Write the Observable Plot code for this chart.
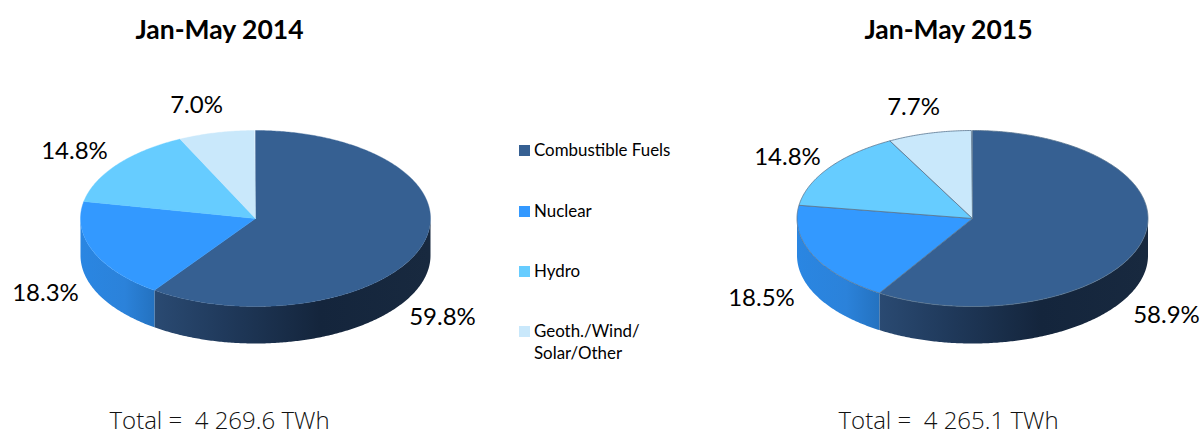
<!DOCTYPE html>
<html>
<head>
<meta charset="utf-8">
<script src="https://cdn.jsdelivr.net/npm/d3@7"></script>
<script src="https://cdn.jsdelivr.net/npm/@observablehq/plot@0.6"></script>
<style>
  html, body { margin: 0; padding: 0; background: #fff; }
  #stage { position: relative; width: 1204px; height: 436px; overflow: hidden; font-family: Lato, sans-serif; color: #000; }
  #stage > div { position: absolute; top: 0; }
  #legend { left: 500px; width: 220px; height: 436px; }
  .item { position: absolute; left: 34px; font-size: 16.9px; line-height: 22px; white-space: pre; }
  .swatch { position: absolute; width: 11px; height: 11px; left: 19px; }
</style>
</head>
<body>
<div id="stage">
  <div id="left" style="left:0"></div>
  <div id="legend"></div>
  <div id="right" style="left:720px"></div>
</div>
<script>
// ---- data ----
const categories = ["Combustible Fuels", "Nuclear", "Hydro", "Geoth./Wind/\nSolar/Other"];
const shares2014 = [59.8, 18.3, 14.8, 7.0];
const shares2015 = [58.9, 18.5, 14.8, 7.7];
const titles = ["Jan-May 2014", "Jan-May 2015"];
const totals = ["Total =  4 269.6 TWh", "Total =  4 265.1 TWh"];

// ---- style and layout ----
const colors = ["#366092", "#3399ff", "#66ccff", "#c9e8fb"];
const H = 436, RY = 88, DEPTH = 37, CY = 218;
const legendTops = [139, 200, 260, 320];
const layouts = {
  a: {W: 500, cx: 255, rx: 175, textX: 219, outline: null, grad: "a",
      labels: [[442, 317], [45, 293], [74, 151], [196, 105]]},
  b: {W: 484, cx: 252, rx: 175.5, textX: 228, outline: "#59758f", grad: "b",
      labels: [[446, 315], [41, 298], [67, 157], [193, 107]]}
};

const rad = (pct) => pct / 100 * 2 * Math.PI;

function pie(shares, title, total, L) {
  const {W, cx, rx, textX} = L;
  const ux = (px) => (px - cx) / rx;           // panel pixel -> unit x
  const uy = (py) => (CY - py) / RY;           // panel pixel -> unit y
  const drop = DEPTH / RY;
  const rim = (t, d = 0) => ({x: Math.sin(t), y: Math.cos(t) - d});
  const arc = (a, b, d = 0) => {
    const n = Math.max(2, Math.ceil((b - a) / 0.01));
    return d3.range(n + 1).map((i) => rim(a + (b - a) * i / n, d));
  };

  // cumulative slice bounds, clockwise from 12 o'clock
  let acc = 0;
  const slices = shares.map((v, i) => {
    const s = {i, v, a: rad(acc), b: rad(acc + v)};
    acc += v;
    return s;
  });

  const tops = slices.map((s) => Plot.line(
    [{x: 0, y: 0}, ...arc(s.a, s.b), {x: 0, y: 0}],
    {x: "x", y: "y", fill: colors[s.i], curve: "linear",
     stroke: L.outline ?? colors[s.i], strokeWidth: L.outline ? 0.8 : 0.4, strokeLinejoin: "round"}
  ));

  // front walls: only the part of each slice on the near half
  const wall = (a, b, fill) => Plot.line(
    [...arc(a, b), ...arc(a, b, drop).reverse()],
    {x: "x", y: "y", fill, stroke: "none", curve: "linear"}
  );
  const split = slices[0].b;
  const walls = [
    wall(Math.PI / 2, split, `url(#wallDark${L.grad})`),
    wall(split, Math.PI * 1.5, `url(#wallBlue${L.grad})`)
  ];

  const defs = () => d3.create("svg:defs").html(`
    <linearGradient id="wallDark${L.grad}" x1="0" x2="1" y1="0" y2="0">
      <stop offset="0" stop-color="#2a4a72"/>
      <stop offset="0.25" stop-color="#203a5c"/>
      <stop offset="0.6" stop-color="#14253c"/>
      <stop offset="1" stop-color="#18293f"/>
    </linearGradient>
    <linearGradient id="wallBlue${L.grad}" x1="0" x2="1" y1="0" y2="0">
      <stop offset="0" stop-color="#2a86e2"/>
      <stop offset="0.6" stop-color="#2b82da"/>
      <stop offset="1" stop-color="#2472c0"/>
    </linearGradient>`).node();

  const labels = shares.map((v, i) => ({
    text: v.toFixed(1) + "%", x: ux(L.labels[i][0]), y: uy(L.labels[i][1])
  }));

  return Plot.plot({
    width: W, height: H, margin: 0,
    x: {domain: [ux(0), ux(W)], axis: null},
    y: {domain: [uy(H), uy(0)], axis: null},
    marks: [
      defs,
      ...walls,
      ...tops,
      Plot.text(labels, {x: "x", y: "y", text: "text", fontSize: 24, fontFamily: "Lato", fill: "#000"}),
      Plot.text([title], {frameAnchor: "top-left", dx: textX, dy: 30, textAnchor: "middle", lineAnchor: "middle",
                          fontSize: 26.5, fontWeight: 700, fontFamily: "Lato", fill: "#000"}),
      Plot.text([total], {frameAnchor: "top-left", dx: textX, dy: 421, textAnchor: "middle", lineAnchor: "middle",
                          fontSize: 24, fontWeight: 300, fontFamily: "'Open Sans'", fill: "#111"})
    ]
  });
}

document.getElementById("left").append(pie(shares2014, titles[0], totals[0], layouts.a));
document.getElementById("right").append(pie(shares2015, titles[1], totals[1], layouts.b));

const legend = document.getElementById("legend");
categories.forEach((c, i) => {
  const sw = document.createElement("div");
  sw.className = "swatch";
  sw.style.top = (legendTops[i] + 6) + "px";
  sw.style.background = colors[i];
  const tx = document.createElement("div");
  tx.className = "item";
  tx.style.top = legendTops[i] + "px";
  tx.textContent = c;
  legend.append(sw, tx);
});
</script>
</body>
</html>
